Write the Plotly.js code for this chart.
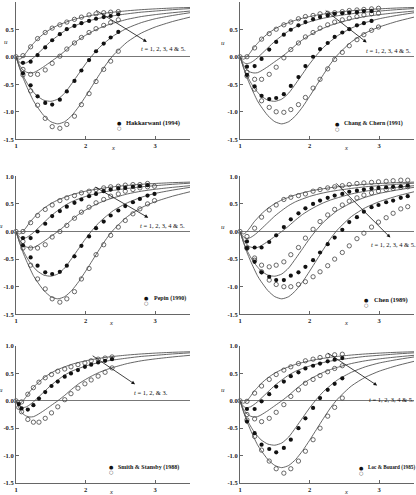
<!DOCTYPE html>
<html>
<head>
<meta charset="utf-8">
<script src="https://cdn.plot.ly/plotly-3.0.1.min.js"></script>
<style>
  body { margin: 0; background: #fff; }
  #chart { width: 416px; height: 495px; }
</style>
</head>
<body>
<div id="chart"></div>
<script>
// theoretical curves, t = 1..5 (same in every panel)
const xLine = [1, 1.025, 1.05, 1.075, 1.1, 1.15, 1.2, 1.25, 1.3, 1.4, 1.5, 1.6, 1.7, 1.8, 1.9, 2.0, 2.1, 2.2, 2.3, 2.4, 2.6, 2.8, 3.0, 3.25, 3.5];
const line_t1 = [0, -0.035, -0.045, -0.03, 0.0, 0.08, 0.17, 0.24, 0.31, 0.42, 0.505, 0.57, 0.62, 0.665, 0.70, 0.73, 0.755, 0.775, 0.795, 0.81, 0.835, 0.855, 0.87, 0.885, 0.895];
const line_t2 = [0, -0.06, -0.10, -0.12, -0.125, -0.11, -0.07, -0.02, 0.04, 0.16, 0.28, 0.38, 0.47, 0.54, 0.59, 0.635, 0.67, 0.70, 0.725, 0.745, 0.78, 0.81, 0.83, 0.855, 0.875];
const line_t3 = [0, -0.08, -0.15, -0.20, -0.24, -0.28, -0.295, -0.29, -0.26, -0.18, -0.09, 0.0, 0.10, 0.21, 0.31, 0.39, 0.46, 0.52, 0.57, 0.61, 0.68, 0.73, 0.765, 0.80, 0.83];
const line_t4 = [0, -0.10, -0.19, -0.27, -0.34, -0.46, -0.56, -0.64, -0.71, -0.79, -0.81, -0.77, -0.66, -0.49, -0.31, -0.13, 0.03, 0.17, 0.28, 0.38, 0.52, 0.62, 0.69, 0.75, 0.80];
const line_t5 = [0, -0.10, -0.20, -0.29, -0.38, -0.53, -0.67, -0.80, -0.90, -1.07, -1.18, -1.22, -1.18, -1.07, -0.91, -0.72, -0.52, -0.32, -0.13, 0.03, 0.27, 0.43, 0.54, 0.64, 0.72];
const theory = [line_t1, line_t2, line_t3, line_t4, line_t5];

// sample positions of the published data
const xs = [1.00, 1.10, 1.21, 1.31, 1.42, 1.52, 1.63, 1.73, 1.84, 1.94, 2.05, 2.15, 2.26, 2.36, 2.47, 2.57, 2.68, 2.78, 2.89, 2.99, 3.10, 3.20, 3.31, 3.41];
const xs5 = [1.00, 1.04, 1.08, 1.17, 1.25, 1.33, 1.42, 1.51, 1.60, 1.70, 1.79, 1.89, 1.99, 2.08, 2.18, 2.28, 2.38];

// panel 1
const p1_t1 = [0, 0.02, 0.18, 0.33, 0.44, 0.52, 0.58, 0.63, 0.68, 0.72, 0.76, 0.78, 0.80, 0.81, 0.82];
const p1_t2 = [null, -0.11, -0.09, 0.03, 0.17, 0.30, 0.41, 0.50, 0.56, 0.61, 0.65, 0.69, 0.72, 0.74, 0.77];
const p1_t3 = [null, -0.23, -0.32, -0.32, -0.24, -0.12, 0.01, 0.14, 0.25, 0.35, 0.44, 0.51, 0.57, 0.62, 0.67];
const p1_t4 = [null, -0.30, -0.52, -0.72, -0.84, -0.87, -0.78, -0.63, -0.44, -0.25, -0.06, 0.10, 0.24, 0.35, 0.45];
const p1_t5 = [null, -0.33, -0.62, -0.88, -1.12, -1.27, -1.30, -1.23, -1.08, -0.87, -0.67, -0.45, -0.23, -0.08, 0.10];

// panel 2
const p2_t1 = [0, 0.0, 0.16, 0.32, 0.42, 0.50, 0.58, 0.63, 0.69, 0.73, 0.75, 0.78, 0.79, 0.80, 0.82, 0.84, 0.85, 0.86, 0.87, 0.88];
const p2_t2 = [null, -0.18, -0.17, -0.04, 0.13, 0.27, 0.40, 0.49, 0.57, 0.63, 0.68, 0.72, 0.75, 0.78, 0.79, 0.80, 0.81, 0.83, 0.83];
const p2_t3 = [null, -0.28, -0.41, -0.41, -0.32, -0.19, -0.02, 0.13, 0.25, 0.36, 0.44, 0.52, 0.58, 0.63, 0.67, 0.70, 0.73, 0.76, 0.78, 0.79];
const p2_t4 = [null, -0.33, -0.54, -0.71, -0.77, -0.75, -0.68, -0.53, -0.37, -0.17, 0.0, 0.14, 0.25, 0.36, 0.44, 0.50, 0.57, 0.61, 0.65];
const p2_t5 = [null, -0.35, -0.59, -0.80, -0.92, -1.00, -1.01, -0.96, -0.87, -0.74, -0.57, -0.41, -0.22, -0.05, 0.08, 0.20, 0.31, 0.40, 0.48, 0.54];

// panel 3
const p3_t1 = [0, 0.0, 0.16, 0.29, 0.40, 0.48, 0.56, 0.61, 0.65, 0.70, 0.73, 0.76, 0.79, 0.81, 0.82, 0.84, 0.85, 0.85, 0.87];
const p3_t2 = [null, -0.12, -0.12, 0.0, 0.14, 0.28, 0.37, 0.45, 0.52, 0.58, 0.64, 0.68, 0.73, 0.76, 0.78, 0.79, 0.81, 0.82, 0.84];
const p3_t3 = [null, -0.18, -0.30, -0.30, -0.24, -0.10, 0.0, 0.11, 0.24, 0.35, 0.44, 0.52, 0.58, 0.64, 0.68, 0.73, 0.76, 0.79, 0.81, 0.82];
const p3_t4 = [null, -0.25, -0.47, -0.62, -0.74, -0.77, -0.73, -0.62, -0.45, -0.26, -0.09, 0.06, 0.18, 0.29, 0.38, 0.46, 0.53, 0.59, 0.65, 0.68];
const p3_t5 = [null, -0.30, -0.61, -0.86, -1.04, -1.22, -1.28, -1.22, -1.09, -0.86, -0.67, -0.42, -0.24, -0.07, 0.08, 0.20, 0.32, 0.41, 0.50, 0.56];

// panel 4
const p4_t1 = [0, -0.09, 0.06, 0.26, 0.39, 0.48, 0.58, 0.62, 0.65, 0.68, 0.73, 0.76, 0.79, 0.81, 0.83, 0.85, 0.87, 0.88, 0.89, 0.90, 0.91, 0.92, 0.93, 0.93];
const p4_t2 = [null, -0.18, -0.29, -0.29, -0.19, -0.07, 0.08, 0.22, 0.33, 0.42, 0.50, 0.56, 0.61, 0.65, 0.68, 0.72, 0.74, 0.76, 0.78, 0.79, 0.80, 0.81, 0.82, 0.83];
const p4_t3 = [null, -0.30, -0.48, -0.61, -0.64, -0.61, -0.55, -0.42, -0.29, -0.12, 0.04, 0.18, 0.30, 0.40, 0.48, 0.55, 0.61, 0.66, 0.70, 0.73, 0.76, 0.78, 0.80, 0.81];
const p4_t4 = [null, -0.30, -0.55, -0.74, -0.82, -0.88, -0.88, -0.80, -0.74, -0.64, -0.52, -0.38, -0.23, -0.11, 0.03, 0.17, 0.26, 0.36, 0.44, 0.48, 0.53, 0.56, 0.61, 0.64];
const p4_t5 = [null, -0.30, -0.52, -0.73, -0.88, -0.96, -1.00, -1.00, -0.96, -0.91, -0.82, -0.73, -0.62, -0.50, -0.38, -0.26, -0.13, -0.03, 0.08, 0.17, 0.25, 0.33, 0.41, 0.45];

// panel 5 (t = 1, 2, 3 only)
const p5_t1 = [0, null, -0.02, 0.12, 0.24, 0.34, 0.42, 0.48, 0.54, 0.58, 0.62, 0.66, 0.69, 0.73, 0.76, 0.78, 0.80];
const p5_t2 = [null, -0.06, -0.14, -0.16, -0.08, 0.04, 0.16, 0.27, 0.35, 0.44, 0.50, 0.56, 0.62, 0.66, 0.70, 0.73, 0.76];
const p5_t3 = [null, -0.12, -0.20, -0.34, -0.39, -0.39, -0.32, -0.22, -0.11, 0.02, 0.13, 0.23, 0.31, 0.38, 0.45, 0.52, 0.60];

// panel 6
const p6_t1 = [0, -0.01, 0.14, 0.27, 0.39, 0.48, 0.56, 0.62, 0.68, 0.73, 0.76, 0.79, 0.82, 0.84, 0.85];
const p6_t2 = [null, -0.15, -0.15, -0.01, 0.12, 0.26, 0.35, 0.45, 0.52, 0.59, 0.64, 0.68, 0.72, 0.75, 0.78];
const p6_t3 = [null, -0.25, -0.33, -0.38, -0.32, -0.21, -0.07, 0.08, 0.20, 0.32, 0.39, 0.46, 0.53, 0.59, 0.64];
const p6_t4 = [null, -0.38, -0.59, -0.80, -0.88, -0.94, -0.86, -0.71, -0.50, -0.32, -0.13, 0.05, 0.20, 0.31, 0.41];
const p6_t5 = [null, -0.35, -0.65, -0.90, -1.10, -1.24, -1.32, -1.24, -1.10, -0.92, -0.71, -0.50, -0.28, -0.12, 0.05];

const sources = ["Hakkarwani (1994)", "Chang & Chern (1991)", "Pepin (1990)", "Chen (1989)", "Smith & Stansby (1988)", "Loc & Bouard (1985)"];
const yTicks = [1.0, 0.5, 0.0, -0.5, -1.0, -1.5];
const yTickText = ["1.0", "0.5", "0.0", "-0.5", "-1.0", "-1.5"];
const xTicks = [1, 2, 3];

// panel settings: series, legend spot, arrow, labels
const panels = [
    { x: xs, open: [p1_t1, p1_t3, p1_t5], filled: [p1_t2, p1_t4], nLines: 5,
      leg: [2.48, -1.20], legSize: 6.5, arrow: [2.13, 0.86, 2.88, 0.27], lab: [2.76, 0.15], tlab: "1, 2, 3, 4 & 5.",
      u: [-0.056, 0.71], xt: 0.556, col: 0, row: 0 },
    { x: xs, open: [p2_t1, p2_t3, p2_t5], filled: [p2_t2, p2_t4], nLines: 5,
      leg: [2.40, -1.22], legSize: 6, arrow: [2.21, 0.86, 2.82, 0.26], lab: [2.78, 0.12], tlab: "1, 2, 3, 4 & 5.",
      u: [-0.10, 0.70], xt: 0.61, col: 1, row: 0 },
    { x: xs, open: [p3_t1, p3_t3, p3_t5], filled: [p3_t2, p3_t4], nLines: 5,
      leg: [2.88, -1.21], legSize: 6, arrow: [2.12, 0.82, 2.90, 0.25], lab: [2.75, 0.11], tlab: "1, 2, 3, 4 & 5.",
      u: [-0.084, 0.64], xt: 0.548, col: 0, row: 1 },
    { x: xs, open: [p4_t1, p4_t3, p4_t5], filled: [p4_t2, p4_t4], nLines: 5,
      leg: [2.82, -1.24], legSize: 6.5, arrow: [2.36, 0.90, 3.16, -0.11], lab: [2.85, -0.24], tlab: "1, 2, 3, 4 & 5.",
      u: [-0.096, 0.636], xt: 0.61, col: 1, row: 1 },
    { x: xs5, open: [p5_t1, p5_t3], filled: [p5_t2], nLines: 3,
      leg: [2.37, -1.21], legSize: 6, arrow: [2.08, 0.84, 2.71, 0.30], lab: [2.66, 0.15], tlab: "1, 2, & 3.",
      u: [-0.088, 0.676], xt: 0.548, col: 0, row: 2 },
    { x: xs, open: [p6_t1, p6_t3, p6_t5], filled: [p6_t2, p6_t4], nLines: 5,
      leg: [2.74, -1.22], legSize: 5.2, arrow: [2.24, 0.89, 2.97, 0.28], lab: [2.82, 0.03], tlab: "1, 2, 3, 4 & 5.",
      u: [-0.10, 0.68], xt: 0.61, col: 1, row: 2 },
];

const W = 416, H = 495;
const colDomains = [[16 / W, 190 / W], [240 / W, 414 / W]];
const rowDomains = [[1 - 139.3 / H, 1 - 1.7 / H], [1 - 314.3 / H, 1 - 176.3 / H], [1 - 483 / H, 1 - 346 / H]];

const serif = "Liberation Serif, Times New Roman, serif";
const tickFont = { family: serif, size: 6.5, color: "#222", weight: "bold" };

const traces = [];
const layout = {
    width: W, height: H,
    margin: { l: 0, r: 0, t: 0, b: 0 },
    paper_bgcolor: "#fff", plot_bgcolor: "#fff",
    showlegend: false,
    annotations: [],
};

panels.forEach(function (p, i) {
    const n = i === 0 ? "" : String(i + 1);
    const xa = "x" + n, ya = "y" + n;

    layout["xaxis" + n] = {
        domain: colDomains[p.col], anchor: ya, range: [1, 3.5],
        tickvals: xTicks, ticks: "inside", ticklen: 3, tickcolor: "#666",
        showline: true, linecolor: "#666", linewidth: 1,
        showgrid: false, zeroline: false, tickfont: tickFont,
    };
    layout["yaxis" + n] = {
        domain: rowDomains[p.row], anchor: xa, range: [-1.5, 1.0],
        tickvals: yTicks, ticktext: yTickText, ticks: "inside", ticklen: 3, tickcolor: "#666",
        showline: true, linecolor: "#666", linewidth: 1,
        showgrid: false, zeroline: true, zerolinecolor: "#777", zerolinewidth: 1,
        tickfont: tickFont,
    };

    for (let k = 0; k < p.nLines; k++) {
        traces.push({
            type: "scatter", mode: "lines", x: xLine, y: theory[k],
            xaxis: xa, yaxis: ya,
            line: { color: "#555", width: 0.9, shape: "spline", smoothing: 0.6 },
            hoverinfo: "skip",
        });
    }
    p.open.forEach(function (vals) {
        traces.push({
            type: "scatter", mode: "markers", x: p.x.slice(0, vals.length), y: vals,
            xaxis: xa, yaxis: ya, cliponaxis: false,
            marker: { symbol: "circle-open", size: 4.3, color: "#444", line: { width: 0.8, color: "#444" } },
        });
    });
    p.filled.forEach(function (vals) {
        traces.push({
            type: "scatter", mode: "markers", x: p.x.slice(0, vals.length), y: vals,
            xaxis: xa, yaxis: ya, cliponaxis: false,
            marker: { symbol: "circle", size: 4.2, color: "#111" },
        });
    });

    const ann = layout.annotations;
    // arrow through the curves
    ann.push({
        xref: xa, yref: ya, axref: xa, ayref: ya,
        x: p.arrow[2], y: p.arrow[3], ax: p.arrow[0], ay: p.arrow[1],
        text: "", showarrow: true, arrowhead: 2, arrowsize: 0.9, arrowwidth: 0.8, arrowcolor: "#111",
    });
    ann.push({
        xref: xa, yref: ya, x: p.lab[0], y: p.lab[1], xanchor: "left", yanchor: "middle",
        text: "<i>t</i> = " + p.tlab, showarrow: false,
        font: { family: serif, size: 6.5, color: "#111" },
    });
    // legend
    ann.push({
        xref: xa, yref: ya, x: p.leg[0], y: p.leg[1], xanchor: "center", yanchor: "middle",
        text: "●", showarrow: false, font: { family: "DejaVu Sans", size: 5, color: "#111" },
    });
    ann.push({
        xref: xa, yref: ya, x: p.leg[0], y: p.leg[1] - 0.09, xanchor: "center", yanchor: "middle",
        text: "○", showarrow: false, font: { family: "DejaVu Sans", size: 5, color: "#444" },
    });
    ann.push({
        xref: xa, yref: ya, x: p.leg[0] + 0.07, y: p.leg[1], xanchor: "left", yanchor: "middle",
        text: sources[i], showarrow: false,
        font: { family: serif, size: p.legSize, color: "#111", weight: "bold" },
    });
    // axis titles
    ann.push({
        xref: xa + " domain", yref: ya + " domain", x: p.u[0], y: p.u[1],
        xanchor: "center", yanchor: "middle", text: "<i>u</i>", showarrow: false,
        font: { family: serif, size: 7, color: "#222" },
    });
    ann.push({
        xref: xa + " domain", yref: ya + " domain", x: p.xt, y: -0.062,
        xanchor: "center", yanchor: "middle", text: "<i>x</i>", showarrow: false,
        font: { family: serif, size: 6.5, color: "#222" },
    });
});

Plotly.newPlot("chart", traces, layout, { displayModeBar: false, staticPlot: true });
</script>
</body>
</html>
